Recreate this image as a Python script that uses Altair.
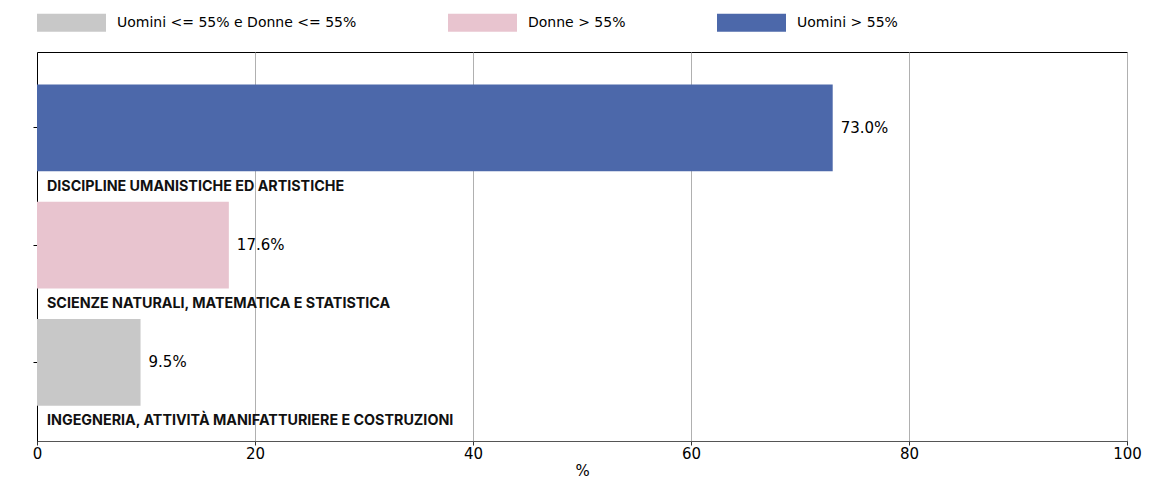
import altair as alt
import pandas as pd

# Data
categorie = [
    "DISCIPLINE UMANISTICHE ED ARTISTICHE",
    "SCIENZE NATURALI, MATEMATICA E STATISTICA",
    "INGEGNERIA, ATTIVITÀ MANIFATTURIERE E COSTRUZIONI",
]
valori = [73.0, 17.6, 9.5]
gruppi = ["Uomini > 55%", "Donne > 55%", "Uomini <= 55% e Donne <= 55%"]
legenda = ["Uomini <= 55% e Donne <= 55%", "Donne > 55%", "Uomini > 55%"]
colori = ["#c8c8c8", "#e8c4cf", "#4c68aa"]
x_ticks = [0, 20, 40, 60, 80, 100]

df = pd.DataFrame({"categoria": categorie, "valore": valori, "gruppo": gruppi})

y_enc = alt.Y(
    "categoria:N",
    sort=categorie,
    scale=alt.Scale(paddingInner=0.26, paddingOuter=0.29, align=0.48),
    axis=alt.Axis(labels=False, title=None, domain=True, domainColor="black",
                  ticks=True, tickColor="black", tickSize=4, grid=False),
)

x_scale = alt.Scale(domain=[0, 100], nice=False)

base = alt.Chart(df).transform_calculate(
    etichetta="format(datum.valore, '.1f') + '%'"
)

bars = base.mark_bar().encode(
    x=alt.X(
        "valore:Q",
        scale=x_scale,
        axis=alt.Axis(values=x_ticks, title="%", grid=True, gridColor="#b0b0b0",
                      gridWidth=1, domainColor="#555555", tickColor="#333333",
                      tickSize=4, labelPadding=1, titlePadding=2, format="d",
                      labelFlush=False),
    ),
    y=y_enc,
    color=alt.Color(
        "gruppo:N",
        scale=alt.Scale(domain=legenda, range=colori),
        legend=alt.Legend(
            orient="none", legendX=0, legendY=-64, direction="horizontal",
            title=None, symbolType="M-1,-0.26H1V0.26H-1Z", symbolSize=4761,
            symbolStrokeWidth=0, symbolOpacity=1, labelFont="DejaVu Sans",
            labelFontSize=14, labelOffset=11, columnPadding=91,
            labelLimit=400, labelColor="black",
        ),
    ),
)

valori_txt = base.mark_text(
    align="left", baseline="middle", dx=8, font="DejaVu Sans", fontSize=15,
    color="black",
).encode(x=alt.X("valore:Q", scale=x_scale), y=y_enc, text="etichetta:N")

cat_txt = base.mark_text(
    align="left", baseline="middle", dx=10, dy=59, font="Inter",
    fontWeight="bold", fontSize=14.3, color="#111111",
).encode(x=alt.datum(0), y=y_enc, text="categoria:N")

chart = (
    alt.layer(bars, valori_txt, cat_txt)
    .properties(
        width=1090, height=389,
        autosize=alt.AutoSizeParams(type="none"),
        padding={"left": 29, "top": 44, "right": 15, "bottom": 37},
    )
    .configure_view(stroke="black", strokeWidth=1)
    .configure_axis(labelFont="DejaVu Sans", labelFontSize=15, labelColor="black",
                    titleFont="DejaVu Sans", titleFontSize=15,
                    titleFontWeight="normal", titleColor="black")
)

chart.save("out.html", embed_options={"renderer": "svg", "actions": False})
